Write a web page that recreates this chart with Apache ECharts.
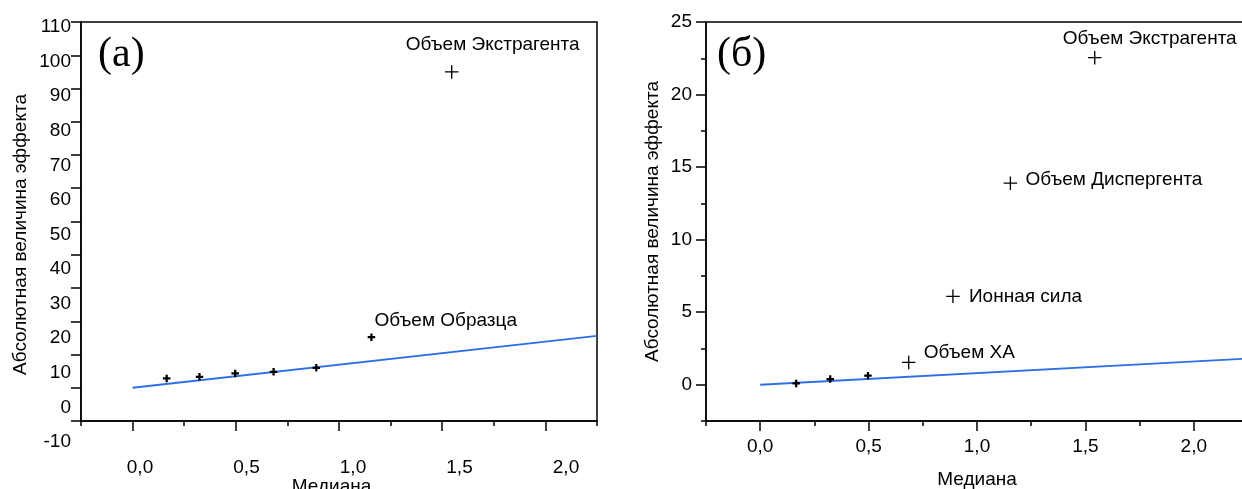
<!DOCTYPE html>
<html>
<head>
<meta charset="utf-8">
<script src="https://cdn.jsdelivr.net/npm/echarts@6/dist/echarts.min.js"></script>
<style>
  html, body { margin: 0; padding: 0; background: #fff; }
  #chart { width: 1242px; height: 489px; }
</style>
</head>
<body>
<div id="chart"></div>
<script>
// (а) эффекты
const medianA = [0.165, 0.324, 0.497, 0.683, 0.89, 1.157, 1.546];
const effectA = [2.8, 3.3, 4.3, 4.8, 6.0, 15.2, 95.0];
const factorA = ['', '', '', '', '', 'Объем Образца', 'Объем Экстрагента'];
const refLineA = [[0, 0], [2.25, 15.6]];

// (б) эффекты
const medianB = [0.166, 0.323, 0.497, 0.685, 0.889, 1.154, 1.543];
const effectB = [0.09, 0.39, 0.62, 1.54, 6.09, 13.89, 22.54];
const factorB = ['', '', '', 'Объем ХА', 'Ионная сила', 'Объем Диспергента', 'Объем Экстрагента'];
const refLineB = [[0, 0], [2.25, 1.8]];

// подписи осей
const ticksX = [0, 0.5, 1, 1.5, 2];
const ticksYB = [0, 5, 10, 15, 20, 25];

// стиль
const FONT = 'Liberation Sans';
const FS = 19;
const BLUE = '#2e6fe6';
const SMALL_CROSS = 'path://M3.5,0h3v3.5h3.5v3h-3.5v3.5h-3v-3.5h-3.5v-3h3.5z';
const BIG_CROSS = 'path://M9,0h2v9h9v2h-9v9h-2v-9h-9v-2h9z';
const bigMarkers = {
  A: ['Объем Экстрагента'],
  B: ['Объем ХА', 'Ионная сила', 'Объем Диспергента', 'Объем Экстрагента']
};
const labelOffset = {
  A: { 'Объем Образца': [3, -16], 'Объем Экстрагента': [-46, -27] },
  B: { 'Объем ХА': [15, -10], 'Ионная сила': [16, 0], 'Объем Диспергента': [15, -3], 'Объем Экстрагента': [-32, -19] }
};

const black = { color: '#000', width: 1.5 };
const txt = { color: '#000', fontSize: FS, fontFamily: FONT };
const comma = v => v.toFixed(1).replace('.', ',');

function pointsSeries(medians, effects, names, big, offsets, xi, yi) {
  const data = medians.map((m, i) => {
    const name = names[i];
    const isBig = big.includes(name);
    return {
      name,
      value: [m, effects[i]],
      symbol: isBig ? BIG_CROSS : SMALL_CROSS,
      symbolSize: isBig ? 13.5 : 7.5,
      label: name ? { show: true, offset: offsets[name] } : { show: false }
    };
  });
  return {
    type: 'scatter', xAxisIndex: xi, yAxisIndex: yi, data,
    itemStyle: { color: '#000', opacity: 1 },
    label: { position: 'inside', align: 'left', verticalAlign: 'middle', formatter: '{b}', ...txt },
    emphasis: { disabled: true }, silent: true, z: 3
  };
}

function lineSeries(data, xi, yi) {
  return {
    type: 'line', xAxisIndex: xi, yAxisIndex: yi, data,
    showSymbol: false, lineStyle: { color: BLUE, width: 1.8 }, silent: true, z: 2
  };
}

// основная ось: длинные метки через minorTick
function mainX(grid, gap, pad, label) {
  return {
    gridIndex: grid, type: 'value', min: -0.25, max: 2.25, interval: 0.5,
    axisLine: { show: true, onZero: false, lineStyle: black },
    axisTick: { show: true, length: 5, lineStyle: black },
    minorTick: { show: true, splitNumber: 2, length: 10, lineStyle: black },
    splitLine: { show: false }, minorSplitLine: { show: false },
    axisLabel: label,
    name: 'Медиана', nameLocation: 'middle', nameGap: gap,
    nameTextStyle: { ...txt, padding: pad }
  };
}

const option = {
  animation: false,
  textStyle: { fontFamily: FONT },
  title: [
    { text: '(а)', left: 93, top: 29, padding: 5,
      textStyle: { fontFamily: 'Liberation Serif', fontSize: 42, fontWeight: 'normal', color: '#000' } },
    { text: '(б)', left: 712, top: 29, padding: 5,
      textStyle: { fontFamily: 'Liberation Serif', fontSize: 42, fontWeight: 'normal', color: '#000' } }
  ],
  grid: [
    { left: 81, top: 22, width: 516, height: 399, show: true, borderColor: '#000', borderWidth: 1.5, outerBoundsMode: 'none' },
    { left: 140, top: 27, width: 426, height: 415, outerBoundsMode: 'none' },
    { left: 706, top: 22, width: 542, height: 399, show: true, borderColor: '#000', borderWidth: 1.5, outerBoundsMode: 'none' }
  ],
  xAxis: [
    mainX(0, 56, [0, 15, 0, 0], { show: false }),
    {
      gridIndex: 1, type: 'value', min: 0, max: 2, interval: 0.5,
      axisLine: { show: false }, axisTick: { show: false }, splitLine: { show: false },
      axisLabel: { margin: 16, formatter: comma, ...txt }
    },
    mainX(2, 49, 0, { show: true, customValues: ticksX, margin: 16, formatter: comma, ...txt })
  ],
  yAxis: [
    {
      gridIndex: 0, type: 'value', position: 'left', min: -10, max: 110, interval: 10,
      axisLine: { show: true, onZero: false, lineStyle: black },
      axisTick: { show: true, length: 10, lineStyle: black },
      splitLine: { show: false }, axisLabel: { show: false }
    },
    {
      gridIndex: 1, type: 'value', position: 'left', min: -10, max: 110, interval: 10,
      axisLine: { show: false }, axisTick: { show: false }, splitLine: { show: false },
      axisLabel: { margin: 69, ...txt },
      name: 'Абсолютная величина эффекта', nameLocation: 'middle', nameRotate: 90,
      nameGap: 110, nameTextStyle: txt
    },
    {
      gridIndex: 2, type: 'value', position: 'left', min: -2.5, max: 25, interval: 2.5,
      axisLine: { show: true, onZero: false, lineStyle: black },
      axisTick: { show: true, length: 5, lineStyle: black },
      splitLine: { show: false }, axisLabel: { show: false }
    },
    {
      gridIndex: 2, type: 'value', position: 'left', min: -2.5, max: 25, interval: 2.5,
      axisLine: { show: false, onZero: false },
      axisTick: { show: true, customValues: ticksYB, length: 10, lineStyle: black },
      splitLine: { show: false },
      axisLabel: { customValues: ticksYB, margin: 14, ...txt },
      name: 'Абсолютная величина эффекта', nameLocation: 'middle', nameRotate: 90,
      nameGap: 44, nameTextStyle: txt
    }
  ],
  series: [
    lineSeries(refLineA, 0, 0),
    pointsSeries(medianA, effectA, factorA, bigMarkers.A, labelOffset.A, 0, 0),
    lineSeries(refLineB, 2, 2),
    pointsSeries(medianB, effectB, factorB, bigMarkers.B, labelOffset.B, 2, 2)
  ]
};

const chart = echarts.init(document.getElementById('chart'));
chart.setOption(option);
</script>
</body>
</html>
